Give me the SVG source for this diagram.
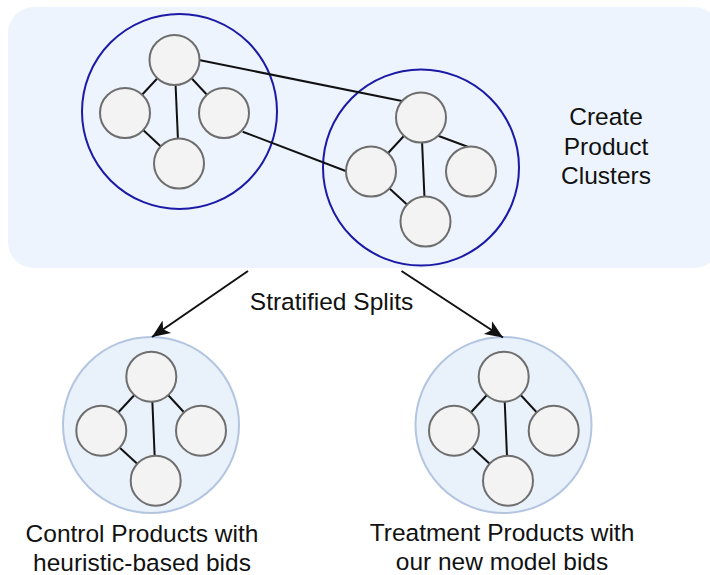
<svg xmlns="http://www.w3.org/2000/svg" width="710" height="575" viewBox="0 0 710 575">
  <style>
    .bg { fill: #EDF4FD; stroke: none; }
    .cluster { fill: none; stroke: #1A1AA6; stroke-width: 2; }
    .group { fill: #E9F1FB; stroke: #B3C5E1; stroke-width: 2; }
    .node { fill: #F3F3F3; stroke: #6E6E6E; stroke-width: 2; }
    .edge { stroke: #111; stroke-width: 2; fill: none; }
    .arrow { stroke: #111; stroke-width: 2; fill: none; }
    .label { font-family: "Liberation Sans", Arial, sans-serif; font-size: 24.5px; fill: #111; text-anchor: middle; }
  </style>
  <defs>
    <marker id="ah" markerUnits="userSpaceOnUse" markerWidth="22" markerHeight="18" refX="18" refY="9" orient="auto">
      <path d="M0,1.5 L18,9 L0,16.5 L4.5,9 Z" fill="#111"/>
    </marker>
  </defs>

  <rect class="bg" x="8" y="7" width="712" height="261" rx="26"/>

  <g id="clusterA"><circle class="cluster" cx="179.5" cy="111.5" r="97.5"/></g>
  <g id="clusterB"><circle class="cluster" cx="421" cy="167.5" r="98"/></g>
  <g id="groupControl"><circle class="group" cx="151" cy="425" r="88"/></g>
  <g id="groupTreatment"><circle class="group" cx="503.5" cy="425" r="88"/></g>

  <g id="connectors">
    <!-- cluster A -->
    <line class="edge" x1="174.5" y1="60" x2="125" y2="113"/>
    <line class="edge" x1="174.5" y1="60" x2="179" y2="163.5"/>
    <line class="edge" x1="174.5" y1="60" x2="224" y2="113"/>
    <line class="edge" x1="125" y1="113" x2="179" y2="163.5"/>
    <!-- cross -->
    <line class="edge" x1="199" y1="60" x2="402" y2="101"/>
    <line class="edge" x1="242.7" y1="131.7" x2="347" y2="171.5"/>
    <!-- cluster B -->
    <line class="edge" x1="421" y1="117.5" x2="371" y2="171.5"/>
    <line class="edge" x1="421" y1="117.5" x2="425.5" y2="221.5"/>
    <line class="edge" x1="436" y1="135" x2="471" y2="148"/>
    <line class="edge" x1="371" y1="171.5" x2="425.5" y2="221.5"/>
    <!-- control -->
    <line class="edge" x1="151.3" y1="376.7" x2="101.3" y2="430.7"/>
    <line class="edge" x1="151.3" y1="376.7" x2="155.7" y2="480.7"/>
    <line class="edge" x1="151.3" y1="376.7" x2="201" y2="430.7"/>
    <line class="edge" x1="101.3" y1="430.7" x2="155.7" y2="480.7"/>
    <!-- treatment -->
    <line class="edge" x1="503.7" y1="376.7" x2="454" y2="430.7"/>
    <line class="edge" x1="503.7" y1="376.7" x2="508" y2="480.7"/>
    <line class="edge" x1="503.7" y1="376.7" x2="553.7" y2="430.7"/>
    <line class="edge" x1="454" y1="430.7" x2="508" y2="480.7"/>
    <!-- split arrows -->
    <line class="arrow" x1="248" y1="271" x2="152" y2="337" marker-end="url(#ah)"/>
    <line class="arrow" x1="401.5" y1="271" x2="503" y2="337.5" marker-end="url(#ah)"/>
  </g>

  <g id="a-top"><circle class="node" cx="174.5" cy="60" r="25"/></g>
  <g id="a-left"><circle class="node" cx="125" cy="113" r="25"/></g>
  <g id="a-right"><circle class="node" cx="224" cy="113" r="25"/></g>
  <g id="a-bottom"><circle class="node" cx="179" cy="163.5" r="25"/></g>

  <g id="b-top"><circle class="node" cx="421" cy="117.5" r="25"/></g>
  <g id="b-left"><circle class="node" cx="371" cy="171.5" r="25"/></g>
  <g id="b-right"><circle class="node" cx="471" cy="171.5" r="25"/></g>
  <g id="b-bottom"><circle class="node" cx="425.5" cy="221.5" r="25"/></g>

  <g id="c-top"><circle class="node" cx="151.3" cy="376.7" r="25"/></g>
  <g id="c-left"><circle class="node" cx="101.3" cy="430.7" r="25"/></g>
  <g id="c-right"><circle class="node" cx="201" cy="430.7" r="25"/></g>
  <g id="c-bottom"><circle class="node" cx="155.7" cy="480.7" r="25"/></g>

  <g id="t-top"><circle class="node" cx="503.7" cy="376.7" r="25"/></g>
  <g id="t-left"><circle class="node" cx="454" cy="430.7" r="25"/></g>
  <g id="t-right"><circle class="node" cx="553.7" cy="430.7" r="25"/></g>
  <g id="t-bottom"><circle class="node" cx="508" cy="480.7" r="25"/></g>

  <g id="label-create">
    <text class="label" x="606" y="125">Create</text>
    <text class="label" x="606" y="155">Product</text>
    <text class="label" x="606" y="184">Clusters</text>
  </g>
  <g id="label-split"><text class="label" x="331.5" y="310">Stratified Splits</text></g>
  <g id="label-control">
    <text class="label" x="142" y="542">Control Products with</text>
    <text class="label" x="142" y="571">heuristic-based bids</text>
  </g>
  <g id="label-treatment">
    <text class="label" x="502" y="541">Treatment Products with</text>
    <text class="label" x="502" y="570">our new model bids</text>
  </g>
</svg>
